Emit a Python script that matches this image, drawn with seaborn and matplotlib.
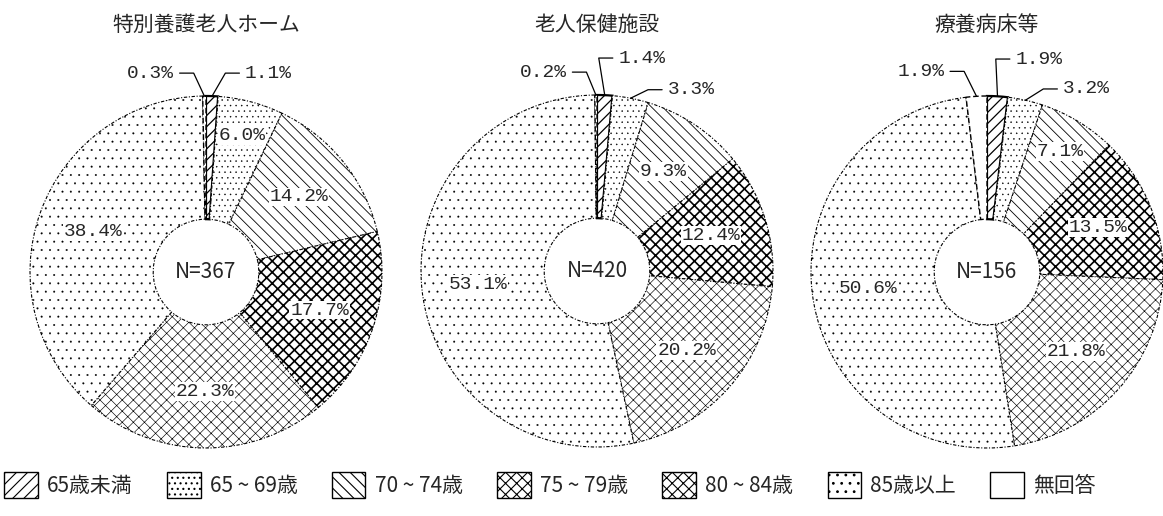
#%% Pacotes

import numpy as np
import matplotlib
matplotlib.use('Agg')
import matplotlib.pyplot as plt
from matplotlib.patches import Patch
import seaborn as sns

sns.set_theme(style='white')
plt.rcParams['font.family'] = ['Noto Sans CJK JP', 'DejaVu Sans']
plt.rcParams['hatch.linewidth'] = 0.8

#%% Dados

categorias = ['65歳未満', '65 ~ 69歳', '70 ~ 74歳', '75 ~ 79歳', '80 ~ 84歳', '85歳以上', '無回答']
titulos = ['特別養護老人ホーム', '老人保健施設', '療養病床等']
n_total = [367, 420, 156]

tokuyou = [1.1, 6.0, 14.2, 17.7, 22.3, 38.4, 0.3]
rouken = [1.4, 3.3, 9.3, 12.4, 20.2, 53.1, 0.2]
ryouyou = [1.9, 3.2, 7.1, 13.5, 21.8, 50.6, 1.9]
series = [tokuyou, rouken, ryouyou]

# estilos por faixa etaria
hatches = ['///', '...', '\\\\\\', 'xxx', 'xxx', '..', '']
hatch_lw = [0.9, 0.3, 0.6, 1.2, 0.45, 0.2, 0.6]

# rotulos fora da pizza: indice -> (x, y, lado)
externos = [
    {6: (-0.18, 1.13, 'left'), 0: (0.22, 1.13, 'right')},
    {6: (-0.17, 1.13, 'left'), 0: (0.12, 1.21, 'right'), 1: (0.40, 1.03, 'right')},
    {6: (-0.24, 1.14, 'left'), 0: (0.16, 1.21, 'right'), 1: (0.43, 1.04, 'right')},
]

#%% Figura

W, H = 1163, 516
fig = plt.figure(figsize=(W / 100, H / 100), dpi=100, facecolor='white')

centros = [(206, 272), (597, 271), (987, 272)]
raio = 176
meia = 1.3 * raio

for k, valores in enumerate(series):
    cx, cy = centros[k]
    ax = fig.add_axes([(cx - meia) / W, (H - cy - meia) / H, 2 * meia / W, 2 * meia / H])
    ax.axis('off')

    wedges, _ = ax.pie(valores, startangle=90, counterclock=False, radius=1,
                       colors=['white'] * len(valores),
                       wedgeprops=dict(width=0.7, edgecolor='black', linewidth=0.8,
                                       linestyle=(0, (3, 1.5, 1, 1.5))))
    for i, w in enumerate(wedges):
        w.set_hatch(hatches[i])
        if hasattr(w, 'set_hatch_linewidth'):
            w.set_hatch_linewidth(hatch_lw[i])
        if i == 0:
            w.set_linestyle('-')
            w.set_linewidth(1.6)
        if i == 6:
            w.set_linestyle((0, (4, 2)))
            w.set_linewidth(1.0)
    ax.set_xlim(-1.3, 1.3)
    ax.set_ylim(-1.3, 1.3)

    for i, w in enumerate(wedges):
        meio = np.deg2rad((w.theta1 + w.theta2) / 2)
        rotulo = f'{valores[i]:.1f}%'
        if i in externos[k]:
            tx, ty, lado = externos[k][i]
            ex, ey = np.cos(meio), np.sin(meio)
            if lado == 'left':
                ax.text(tx, ty, rotulo, ha='right', va='center', fontsize=14,
                        family=['Liberation Mono'])
                ax.plot([tx + 0.03, tx + 0.11, ex], [ty, ty, ey], color='black', lw=0.9,
                        clip_on=False)
            else:
                ax.text(tx, ty, rotulo, ha='left', va='center', fontsize=14,
                        family=['Liberation Mono'])
                ax.plot([tx - 0.03, tx - 0.11, ex], [ty, ty, ey], color='black', lw=0.9,
                        clip_on=False)
        else:
            r = 0.8 if valores[i] < 8 else 0.68
            ax.text(r * np.cos(meio), r * np.sin(meio), rotulo, ha='center', va='center',
                    fontsize=14, family=['Liberation Mono'],
                    bbox=dict(fc='white', ec='none', pad=0.5))

    ax.text(0, 0, f'N={n_total[k]}', ha='center', va='center', fontsize=15)
    ax.text(0, (cy - 25) / raio, titulos[k], ha='center', va='center', fontsize=15)

#%% Legenda

handles = [Patch(facecolor='white', edgecolor='black', hatch=h, linewidth=1) for h in hatches]
fig.legend(handles, categorias, loc='center', bbox_to_anchor=(0.473, 1 - 485 / H), ncol=7,
           frameon=False, fontsize=15, handlelength=1.6, handleheight=1.5,
           handletextpad=0.45, columnspacing=1.65)

fig.savefig('out.png', dpi=100, facecolor='white')
